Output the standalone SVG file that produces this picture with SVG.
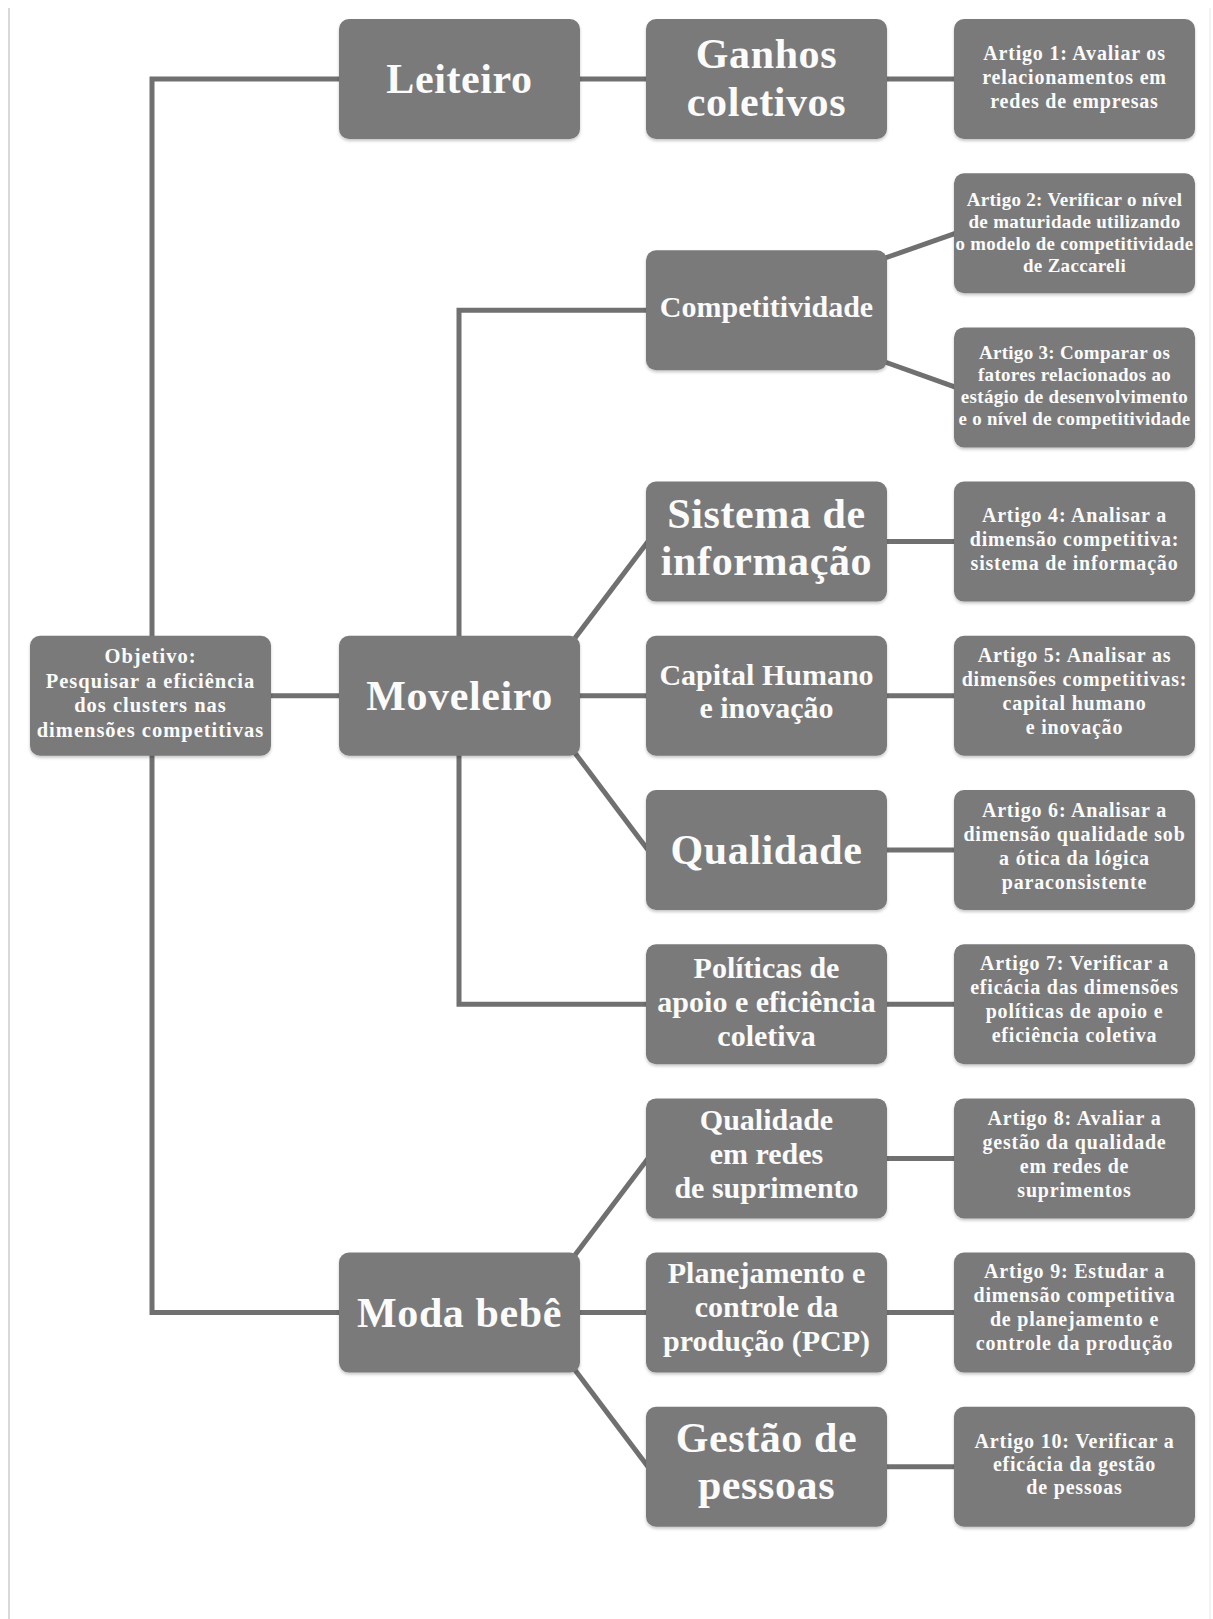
<svg xmlns="http://www.w3.org/2000/svg" width="1213" height="1619" viewBox="0 0 1213 1619">
  <defs>
    <filter id="shadow" x="-5%" y="-5%" width="110%" height="115%">
      <feDropShadow dx="0" dy="2" stdDeviation="1.5" flood-color="#000" flood-opacity="0.22"/>
    </filter>
  </defs>
  <style>
    .box { fill: #7a7a7a; filter: url(#shadow); }
    .link { fill: none; stroke: #707070; stroke-width: 5; stroke-linejoin: miter; }
    text { font-family: "Liberation Serif", "Times New Roman", serif; font-weight: bold; fill: #fbfbfb; text-anchor: middle; }
    .lg { font-size: 42px; letter-spacing: 0.6px; }
    .md { font-size: 30px; }
    .sm { font-size: 20px; letter-spacing: 0.8px; }
    .obj { font-size: 20.5px; letter-spacing: 1px; }
    .xs { font-size: 19px; letter-spacing: 0.3px; }
    .frame { stroke: #d9d9d9; stroke-width: 2; fill: none; }
    .frame-r { stroke: #efefef; stroke-width: 1.5; fill: none; }
  </style>

  <rect width="1213" height="1619" fill="#ffffff"/>
  <line class="frame" x1="9" y1="8" x2="9" y2="1619"/>
  <line class="frame-r" x1="1210" y1="8" x2="1210" y2="1619"/>

  <!-- connectors -->
  <g id="connectors">
    <path class="link" d="M339,79 H152 V1312.6 H339"/>
    <path class="link" d="M271,695.8 H339"/>
    <path class="link" d="M579,79 H646"/>
    <path class="link" d="M887,79 H954"/>
    <path class="link" d="M646,310.3 H459 V1004.2 H646"/>
    <path class="link" d="M579,695.8 H646"/>
    <path class="link" d="M575,638 L648,541.6"/>
    <path class="link" d="M575,753 L648,850"/>
    <path class="link" d="M885,258 L956,233.2"/>
    <path class="link" d="M885,362 L956,387.4"/>
    <path class="link" d="M887,541.6 H954"/>
    <path class="link" d="M887,695.8 H954"/>
    <path class="link" d="M887,850 H954"/>
    <path class="link" d="M887,1004.2 H954"/>
    <path class="link" d="M575,1255 L648,1158.4"/>
    <path class="link" d="M579,1312.6 H646"/>
    <path class="link" d="M575,1370 L648,1466.8"/>
    <path class="link" d="M887,1158.4 H954"/>
    <path class="link" d="M887,1312.6 H954"/>
    <path class="link" d="M887,1466.8 H954"/>
  </g>

  <!-- root -->
  <g id="objetivo">
    <rect class="box" x="30" y="635.8" width="241" height="120" rx="10"/>
    <text class="obj" x="150.5" y="663">Objetivo:</text>
    <text class="obj" x="150.5" y="687.5">Pesquisar a eficiência</text>
    <text class="obj" x="150.5" y="712">dos clusters nas</text>
    <text class="obj" x="150.5" y="736.5">dimensões competitivas</text>
  </g>

  <!-- clusters -->
  <g id="leiteiro">
    <rect class="box" x="339" y="19" width="241" height="120" rx="10"/>
    <text class="lg" x="459.5" y="93">Leiteiro</text>
  </g>
  <g id="moveleiro">
    <rect class="box" x="339" y="635.8" width="241" height="120" rx="10"/>
    <text class="lg" x="459.5" y="710">Moveleiro</text>
  </g>
  <g id="moda-bebe">
    <rect class="box" x="339" y="1252.6" width="241" height="120" rx="10"/>
    <text class="lg" x="459.5" y="1327">Moda bebê</text>
  </g>

  <!-- competitive dimensions -->
  <g id="ganhos-coletivos">
    <rect class="box" x="646" y="19" width="241" height="120" rx="10"/>
    <text class="lg" x="766.5" y="68">Ganhos</text>
    <text class="lg" x="766.5" y="116">coletivos</text>
  </g>
  <g id="competitividade">
    <rect class="box" x="646" y="250.3" width="241" height="120" rx="10"/>
    <text class="md" x="766.5" y="317">Competitividade</text>
  </g>
  <g id="sistema-informacao">
    <rect class="box" x="646" y="481.6" width="241" height="120" rx="10"/>
    <text class="lg" x="766.5" y="528">Sistema de</text>
    <text class="lg" x="766.5" y="575">informação</text>
  </g>
  <g id="capital-humano">
    <rect class="box" x="646" y="635.8" width="241" height="120" rx="10"/>
    <text class="md" x="766.5" y="685">Capital Humano</text>
    <text class="md" x="766.5" y="718">e inovação</text>
  </g>
  <g id="qualidade">
    <rect class="box" x="646" y="790" width="241" height="120" rx="10"/>
    <text class="lg" x="766.5" y="864">Qualidade</text>
  </g>
  <g id="politicas-apoio">
    <rect class="box" x="646" y="944.2" width="241" height="120" rx="10"/>
    <text class="md" x="766.5" y="978">Políticas de</text>
    <text class="md" x="766.5" y="1012">apoio e eficiência</text>
    <text class="md" x="766.5" y="1046">coletiva</text>
  </g>
  <g id="qualidade-redes">
    <rect class="box" x="646" y="1098.4" width="241" height="120" rx="10"/>
    <text class="md" x="766.5" y="1130">Qualidade</text>
    <text class="md" x="766.5" y="1164">em redes</text>
    <text class="md" x="766.5" y="1198">de suprimento</text>
  </g>
  <g id="pcp">
    <rect class="box" x="646" y="1252.6" width="241" height="120" rx="10"/>
    <text class="md" x="766.5" y="1283">Planejamento e</text>
    <text class="md" x="766.5" y="1317">controle da</text>
    <text class="md" x="766.5" y="1351">produção (PCP)</text>
  </g>
  <g id="gestao-pessoas">
    <rect class="box" x="646" y="1406.8" width="241" height="120" rx="10"/>
    <text class="lg" x="766.5" y="1452">Gestão de</text>
    <text class="lg" x="766.5" y="1499">pessoas</text>
  </g>

  <!-- articles -->
  <g id="artigo-1">
    <rect class="box" x="954" y="19" width="241" height="120" rx="10"/>
    <text class="sm" x="1074.5" y="60">Artigo 1: Avaliar os</text>
    <text class="sm" x="1074.5" y="84">relacionamentos em</text>
    <text class="sm" x="1074.5" y="108">redes de empresas</text>
  </g>
  <g id="artigo-2">
    <rect class="box" x="954" y="173.2" width="241" height="120" rx="10"/>
    <text class="xs" x="1074.5" y="206">Artigo 2: Verificar o nível</text>
    <text class="xs" x="1074.5" y="228">de maturidade utilizando</text>
    <text class="xs" x="1074.5" y="250" textLength="238" lengthAdjust="spacingAndGlyphs">o modelo de competitividade</text>
    <text class="xs" x="1074.5" y="272">de Zaccareli</text>
  </g>
  <g id="artigo-3">
    <rect class="box" x="954" y="327.4" width="241" height="120" rx="10"/>
    <text class="xs" x="1074.5" y="359">Artigo 3: Comparar os</text>
    <text class="xs" x="1074.5" y="381">fatores relacionados ao</text>
    <text class="xs" x="1074.5" y="403">estágio de desenvolvimento</text>
    <text class="xs" x="1074.5" y="425" textLength="232" lengthAdjust="spacingAndGlyphs">e o nível de competitividade</text>
  </g>
  <g id="artigo-4">
    <rect class="box" x="954" y="481.6" width="241" height="120" rx="10"/>
    <text class="sm" x="1074.5" y="522">Artigo 4: Analisar a</text>
    <text class="sm" x="1074.5" y="546">dimensão competitiva:</text>
    <text class="sm" x="1074.5" y="570">sistema de informação</text>
  </g>
  <g id="artigo-5">
    <rect class="box" x="954" y="635.8" width="241" height="120" rx="10"/>
    <text class="sm" x="1074.5" y="662">Artigo 5: Analisar as</text>
    <text class="sm" x="1074.5" y="686">dimensões competitivas:</text>
    <text class="sm" x="1074.5" y="710">capital humano</text>
    <text class="sm" x="1074.5" y="734">e inovação</text>
  </g>
  <g id="artigo-6">
    <rect class="box" x="954" y="790" width="241" height="120" rx="10"/>
    <text class="sm" x="1074.5" y="817">Artigo 6: Analisar a</text>
    <text class="sm" x="1074.5" y="841">dimensão qualidade sob</text>
    <text class="sm" x="1074.5" y="865">a ótica da lógica</text>
    <text class="sm" x="1074.5" y="889">paraconsistente</text>
  </g>
  <g id="artigo-7">
    <rect class="box" x="954" y="944.2" width="241" height="120" rx="10"/>
    <text class="sm" x="1074.5" y="970">Artigo 7: Verificar a</text>
    <text class="sm" x="1074.5" y="994">eficácia das dimensões</text>
    <text class="sm" x="1074.5" y="1018">políticas de apoio e</text>
    <text class="sm" x="1074.5" y="1042">eficiência coletiva</text>
  </g>
  <g id="artigo-8">
    <rect class="box" x="954" y="1098.4" width="241" height="120" rx="10"/>
    <text class="sm" x="1074.5" y="1125">Artigo 8: Avaliar a</text>
    <text class="sm" x="1074.5" y="1149">gestão da qualidade</text>
    <text class="sm" x="1074.5" y="1173">em redes de</text>
    <text class="sm" x="1074.5" y="1197">suprimentos</text>
  </g>
  <g id="artigo-9">
    <rect class="box" x="954" y="1252.6" width="241" height="120" rx="10"/>
    <text class="sm" x="1074.5" y="1278">Artigo 9: Estudar a</text>
    <text class="sm" x="1074.5" y="1302">dimensão competitiva</text>
    <text class="sm" x="1074.5" y="1326">de planejamento e</text>
    <text class="sm" x="1074.5" y="1350">controle da produção</text>
  </g>
  <g id="artigo-10">
    <rect class="box" x="954" y="1406.8" width="241" height="120" rx="10"/>
    <text class="sm" x="1074.5" y="1448">Artigo 10: Verificar a</text>
    <text class="sm" x="1074.5" y="1471">eficácia da gestão</text>
    <text class="sm" x="1074.5" y="1494">de pessoas</text>
  </g>
</svg>
